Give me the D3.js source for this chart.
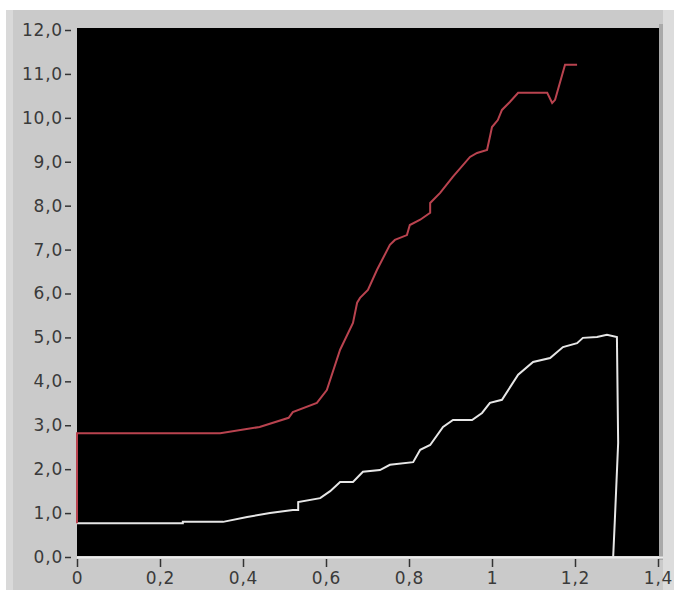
<!DOCTYPE html>
<html>
<head>
<meta charset="utf-8">
<script src="https://cdn.jsdelivr.net/npm/d3@7"></script>
<style>
  body { margin: 0; background: #fff; }
  svg { display: block; }
  .tick text { font-family: "DejaVu Sans", Verdana, sans-serif; font-size: 17px; fill: #3a3a3a; letter-spacing: 0.8px; }
</style>
</head>
<body>
<svg id="chart" width="674" height="590"></svg>
<script>
// red trace
const redX = [0, 0, 0.345, 0.44, 0.51, 0.52, 0.578, 0.602, 0.634, 0.665, 0.675, 0.682, 0.701, 0.723, 0.754, 0.766, 0.795, 0.802, 0.827, 0.851, 0.851, 0.875, 0.906, 0.947, 0.964, 0.988, 0.995, 1.0, 1.014, 1.024, 1.043, 1.063, 1.133, 1.145, 1.152, 1.176, 1.205];
const redY = [0.77, 2.82, 2.82, 2.96, 3.17, 3.30, 3.51, 3.80, 4.72, 5.33, 5.79, 5.90, 6.08, 6.54, 7.11, 7.22, 7.33, 7.56, 7.68, 7.84, 8.06, 8.29, 8.66, 9.11, 9.20, 9.27, 9.57, 9.79, 9.95, 10.18, 10.36, 10.57, 10.57, 10.34, 10.41, 11.21, 11.21];

// white trace
const whiteX = [0, 0.255, 0.255, 0.352, 0.41, 0.465, 0.52, 0.533, 0.533, 0.586, 0.61, 0.634, 0.665, 0.689, 0.73, 0.754, 0.81, 0.827, 0.851, 0.882, 0.906, 0.952, 0.976, 0.995, 1.024, 1.063, 1.099, 1.14, 1.171, 1.205, 1.219, 1.253, 1.277, 1.301, 1.304, 1.296, 1.292];
const whiteY = [0.77, 0.77, 0.80, 0.80, 0.91, 1.00, 1.07, 1.07, 1.25, 1.34, 1.50, 1.71, 1.71, 1.94, 1.98, 2.10, 2.16, 2.44, 2.55, 2.96, 3.12, 3.12, 3.28, 3.51, 3.58, 4.15, 4.44, 4.53, 4.78, 4.87, 4.99, 5.01, 5.06, 5.01, 2.60, 0.84, 0.0];

const xTicks = [0, 0.2, 0.4, 0.6, 0.8, 1, 1.2, 1.4];
const yTicks = [0, 1, 2, 3, 4, 5, 6, 7, 8, 9, 10, 11, 12];

const svg = d3.select("#chart");
const plot = { left: 77, right: 659, top: 28, bottom: 556 };

// panel background
svg.append("rect").attr("x", 6).attr("y", 10).attr("width", 668).attr("height", 580).attr("fill", "#cacaca");
svg.append("rect").attr("x", 6).attr("y", 10).attr("width", 7).attr("height", 580).attr("fill", "#d9d9d9");
svg.append("rect").attr("x", 663).attr("y", 10).attr("width", 11).attr("height", 580).attr("fill", "#dcdcdc");
svg.append("rect").attr("x", 659).attr("y", 24).attr("width", 4).attr("height", 536).attr("fill", "#a9a9a9");

svg.append("rect")
  .attr("x", plot.left).attr("y", plot.top)
  .attr("width", plot.right - plot.left).attr("height", plot.bottom - plot.top)
  .attr("fill", "#000");
svg.append("line")
  .attr("x1", plot.left).attr("x2", plot.right + 4)
  .attr("y1", plot.bottom + 1.5).attr("y2", plot.bottom + 1.5)
  .attr("stroke", "#ececec").attr("stroke-width", 2);

const x = d3.scaleLinear().domain([0, 1.4]).range([77, 658]);
const y = d3.scaleLinear().domain([0, 12]).range([557, 30]);

const fmt = d => d3.format(".1f")(d).replace(".", ",");
const fmtX = d => (d === 0 || d === 1) ? String(d) : String(d).replace(".", ",");

const gy = svg.append("g")
  .attr("transform", "translate(" + (plot.left - 6) + ",0)")
  .call(d3.axisLeft(y).tickValues(yTicks).tickFormat(fmt).tickSize(6).tickPadding(2));
gy.select(".domain").remove();
gy.selectAll(".tick line").attr("stroke", "#333").attr("stroke-width", 1.5);

const gx = svg.append("g")
  .attr("transform", "translate(0," + (plot.bottom + 3) + ")")
  .call(d3.axisBottom(x).tickValues(xTicks).tickFormat(fmtX).tickSize(8));
gx.select(".domain").remove();
gx.selectAll(".tick line").attr("stroke", "#333").attr("stroke-width", 1.5);
gx.selectAll(".tick text").attr("y", 25).attr("dy", 0);

const line = d3.line().x(d => x(d[0])).y(d => y(d[1]));

svg.append("path")
  .datum(d3.zip(whiteX, whiteY))
  .attr("d", line)
  .attr("fill", "none").attr("stroke", "#e6e6e6").attr("stroke-width", 2);

svg.append("path")
  .datum(d3.zip(redX, redY))
  .attr("d", line)
  .attr("fill", "none").attr("stroke", "#b9434f").attr("stroke-width", 2);
</script>
</body>
</html>
